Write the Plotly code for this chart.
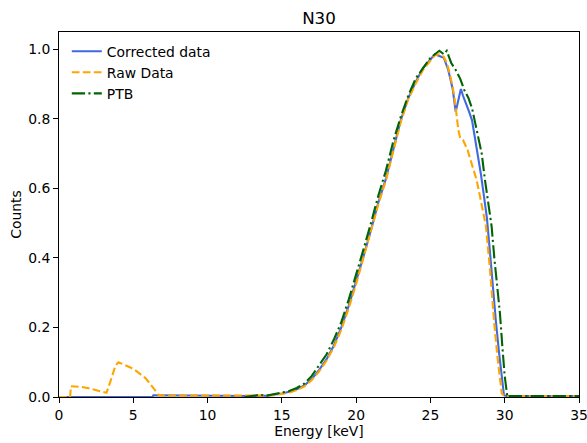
import plotly.graph_objects as go

# ---- data ----
corr_e = [0, 6.3, 6.35, 8, 10, 12, 13, 14, 14.5, 15, 15.5, 16, 16.5, 17, 17.5, 18, 18.5, 19, 19.5,
          20, 20.5, 21, 21.5, 22, 22.5, 23, 23.5, 24, 24.5, 25, 25.3, 25.6, 25.9, 26.2, 26.5, 26.7,
          26.9, 27.05, 27.2, 27.4, 27.6, 27.8, 28.0, 28.2, 28.4, 28.6, 28.8, 29.0, 29.2, 29.4, 29.6,
          29.8, 29.95, 30.1, 35]
corr_v = [0.0, 0.0, 0.005, 0.004, 0.004, 0.003, 0.003, 0.004, 0.006, 0.01, 0.015, 0.022, 0.033, 0.051,
          0.077, 0.108, 0.148, 0.2, 0.262, 0.33, 0.405, 0.48, 0.56, 0.627, 0.712, 0.795, 0.858, 0.905,
          0.945, 0.968, 0.985, 0.98, 0.975, 0.94, 0.885, 0.82, 0.86, 0.885, 0.865, 0.845, 0.82, 0.795,
          0.745, 0.70, 0.64, 0.578, 0.515, 0.42, 0.31, 0.22, 0.135, 0.05, 0.005, 0.003, 0.003]

raw_e = [0, 0.75, 0.8, 1.5, 2.0, 2.5, 3.0, 3.2, 3.5, 3.8, 4.0, 4.3, 4.8, 5.1, 5.5, 5.8, 6.1, 6.4, 6.7,
         7, 10, 12, 13, 14, 14.5, 15, 15.5, 16, 16.5, 17, 17.5, 18, 18.5, 19, 19.5, 20, 20.5, 21,
         21.5, 22, 22.5, 23, 23.5, 24, 24.5, 25, 25.3, 25.6, 25.9, 26.1, 26.3, 26.5, 26.65, 26.88,
         27.0, 27.2, 27.5, 27.78, 28.11, 28.34, 28.6, 28.74, 29.0, 29.12, 29.3, 29.5, 29.65, 29.8,
         30.0, 35]
raw_v = [0.0, 0.0, 0.031, 0.029, 0.025, 0.02, 0.015, 0.012, 0.05, 0.09, 0.1, 0.095, 0.085, 0.078,
         0.066, 0.055, 0.04, 0.022, 0.006, 0.004, 0.004, 0.002, 0.003, 0.004, 0.005, 0.008, 0.013,
         0.02, 0.03, 0.048, 0.073, 0.104, 0.143, 0.193, 0.255, 0.325, 0.4, 0.475, 0.555, 0.622, 0.708,
         0.79, 0.855, 0.9, 0.94, 0.965, 0.982, 0.985, 0.978, 0.96, 0.93, 0.89, 0.85, 0.767, 0.745,
         0.738, 0.71, 0.67, 0.624, 0.576, 0.52, 0.49, 0.37, 0.30, 0.21, 0.12, 0.065, 0.01, 0.003, 0.003]

ptb_e = [12.5, 13, 13.5, 14, 14.5, 15, 15.5, 16, 16.5, 17, 17.5, 18, 18.5, 19, 19.5, 20, 20.5, 21,
         21.5, 22, 22.5, 23, 23.5, 24, 24.5, 25, 25.3, 25.6, 25.9, 26.1, 26.4, 26.7, 27.0, 27.3,
         27.55, 27.8, 28.0, 28.2, 28.45, 28.67, 28.9, 29.12, 29.3, 29.5, 29.68, 29.85, 30.0, 30.18,
         30.3, 35]
ptb_v = [0.0, 0.003, 0.006, 0.004, 0.008, 0.012, 0.017, 0.026, 0.038, 0.06, 0.09, 0.122, 0.165,
         0.215, 0.28, 0.35, 0.425, 0.5, 0.58, 0.65, 0.735, 0.805, 0.865, 0.915, 0.945, 0.975, 0.985,
         0.995, 0.985, 0.995, 0.96, 0.94, 0.915, 0.88, 0.86, 0.83, 0.79, 0.75, 0.70, 0.624, 0.56,
         0.49, 0.40, 0.31, 0.24, 0.14, 0.06, 0.0, 0.003, 0.003]

x_ticks = [0, 5, 10, 15, 20, 25, 30, 35]
y_ticks = [0.0, 0.2, 0.4, 0.6, 0.8, 1.0]

FONT = "DejaVu Sans"

fig = go.Figure()
fig.add_trace(go.Scatter(x=corr_e, y=corr_v, mode="lines", name="Corrected data",
                         line=dict(color="#4169E1", width=2.1)))
fig.add_trace(go.Scatter(x=raw_e, y=raw_v, mode="lines", name="Raw Data",
                         line=dict(color="#FFA500", width=2.1, dash="7.7px,3.3px")))
fig.add_trace(go.Scatter(x=ptb_e, y=ptb_v, mode="lines", name="PTB",
                         line=dict(color="#006400", width=2.1, dash="13.3px,3.3px,2.1px,3.3px")))

axis_common = dict(showline=True, linecolor="black", linewidth=1.1, mirror=True,
                   ticks="outside", ticklen=4.9, tickwidth=1.1, tickcolor="black",
                   showgrid=False, zeroline=False, ticklabeloverflow="allow", automargin=False,
                   tickfont=dict(family=FONT, size=13.9, color="black"))

fig.update_layout(
    width=587, height=443,
    margin=dict(l=59, r=8, t=32, b=46),
    paper_bgcolor="white", plot_bgcolor="white",
    font=dict(family=FONT, size=13.9, color="black"),
    title=dict(text="N30", x=(59 + 579) / 2 / 587, xanchor="center", y=1 - 18 / 443,
               yanchor="middle", font=dict(family=FONT, size=16.7, color="black")),
    xaxis=dict(range=[0, 35], tickvals=x_ticks, ticktext=[str(t) for t in x_ticks],
               title=dict(text="Energy [keV]", font=dict(family=FONT, size=13.9), standoff=3),
               **axis_common),
    yaxis=dict(range=[0, 1.049], tickvals=y_ticks, ticktext=[f"{t:.1f}" for t in y_ticks],
               title=dict(text="Counts", font=dict(family=FONT, size=13.9), standoff=3),
               **axis_common),
    legend=dict(x=0.015, y=0.99, xanchor="left", yanchor="top", bgcolor="rgba(0,0,0,0)",
                font=dict(family=FONT, size=13.9), tracegroupgap=0, itemwidth=30),
    showlegend=True,
)

fig.write_html("out.html")
